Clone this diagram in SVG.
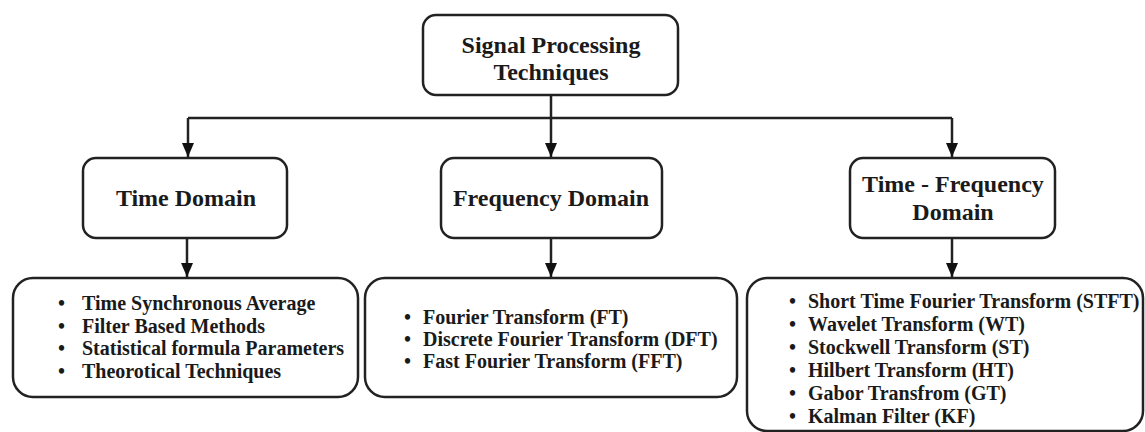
<svg xmlns="http://www.w3.org/2000/svg" width="1145" height="432" viewBox="0 0 1145 432">
<style>
.box{fill:#fff;stroke:#222;stroke-width:2.5}
.t{font-family:"Liberation Serif","Times New Roman",serif;font-weight:bold;fill:#1a1a1a}
.h{font-size:24px;text-anchor:middle}
.l{font-size:20px}
.c{fill:none;stroke:#222;stroke-width:2.5}
</style>
<defs>
<marker id="a" viewBox="0 0 14 12" refX="14" refY="6" markerWidth="14" markerHeight="12" markerUnits="userSpaceOnUse" orient="auto">
<path d="M0,0 L14,6 L0,12 Z" fill="#111"/>
</marker>
</defs>
<rect width="1145" height="432" fill="#fff"/>
<g id="connectors">
<path class="c" d="M551,95 V118"/>
<path class="c" d="M188,118 H952"/>
<path class="c" d="M188,118 V157" marker-end="url(#a)"/>
<path class="c" d="M551,118 V157" marker-end="url(#a)"/>
<path class="c" d="M952,118 V157" marker-end="url(#a)"/>
<path class="c" d="M187,238 V277" marker-end="url(#a)"/>
<path class="c" d="M551,238 V277" marker-end="url(#a)"/>
<path class="c" d="M952,238 V277" marker-end="url(#a)"/>
</g>
<g id="root">
<rect class="box" x="423" y="15" width="255" height="80" rx="13"/>
<text class="t h" x="551" y="53">Signal Processing</text>
<text class="t h" x="551" y="80">Techniques</text>
</g>
<g id="time">
<rect class="box" x="83" y="158" width="204" height="80" rx="13"/>
<text class="t h" x="186" y="206">Time Domain</text>
</g>
<g id="freq">
<rect class="box" x="441" y="158" width="221" height="80" rx="13"/>
<text class="t h" x="551" y="206">Frequency Domain</text>
</g>
<g id="tf">
<rect class="box" x="850" y="158" width="205" height="80" rx="13"/>
<text class="t h" x="953" y="192">Time - Frequency</text>
<text class="t h" x="953" y="220">Domain</text>
</g>
<g id="time-list">
<rect class="box" x="13" y="278" width="345" height="119" rx="20"/>
<g class="t l">
<text x="58" y="310">•</text><text x="82" y="310">Time Synchronous Average</text>
<text x="58" y="333">•</text><text x="82" y="333">Filter Based Methods</text>
<text x="58" y="355">•</text><text x="82" y="355">Statistical formula Parameters</text>
<text x="58" y="378">•</text><text x="82" y="378">Theorotical Techniques</text>
</g>
</g>
<g id="freq-list">
<rect class="box" x="365" y="278" width="372" height="119" rx="20"/>
<g class="t l">
<text x="404" y="324">•</text><text x="423" y="324">Fourier Transform (FT)</text>
<text x="404" y="346">•</text><text x="423" y="346">Discrete Fourier Transform (DFT)</text>
<text x="404" y="368">•</text><text x="423" y="368">Fast Fourier Transform (FFT)</text>
</g>
</g>
<g id="tf-list">
<rect class="box" x="747" y="278" width="396" height="153" rx="20"/>
<g class="t l">
<text x="789" y="308">•</text><text x="808" y="308">Short Time Fourier Transform (STFT)</text>
<text x="789" y="331">•</text><text x="808" y="331">Wavelet Transform (WT)</text>
<text x="789" y="354">•</text><text x="808" y="354">Stockwell Transform (ST)</text>
<text x="789" y="377">•</text><text x="808" y="377">Hilbert Transform (HT)</text>
<text x="789" y="400">•</text><text x="808" y="400">Gabor Transfrom (GT)</text>
<text x="789" y="423">•</text><text x="808" y="423">Kalman Filter (KF)</text>
</g>
</g>
</svg>
